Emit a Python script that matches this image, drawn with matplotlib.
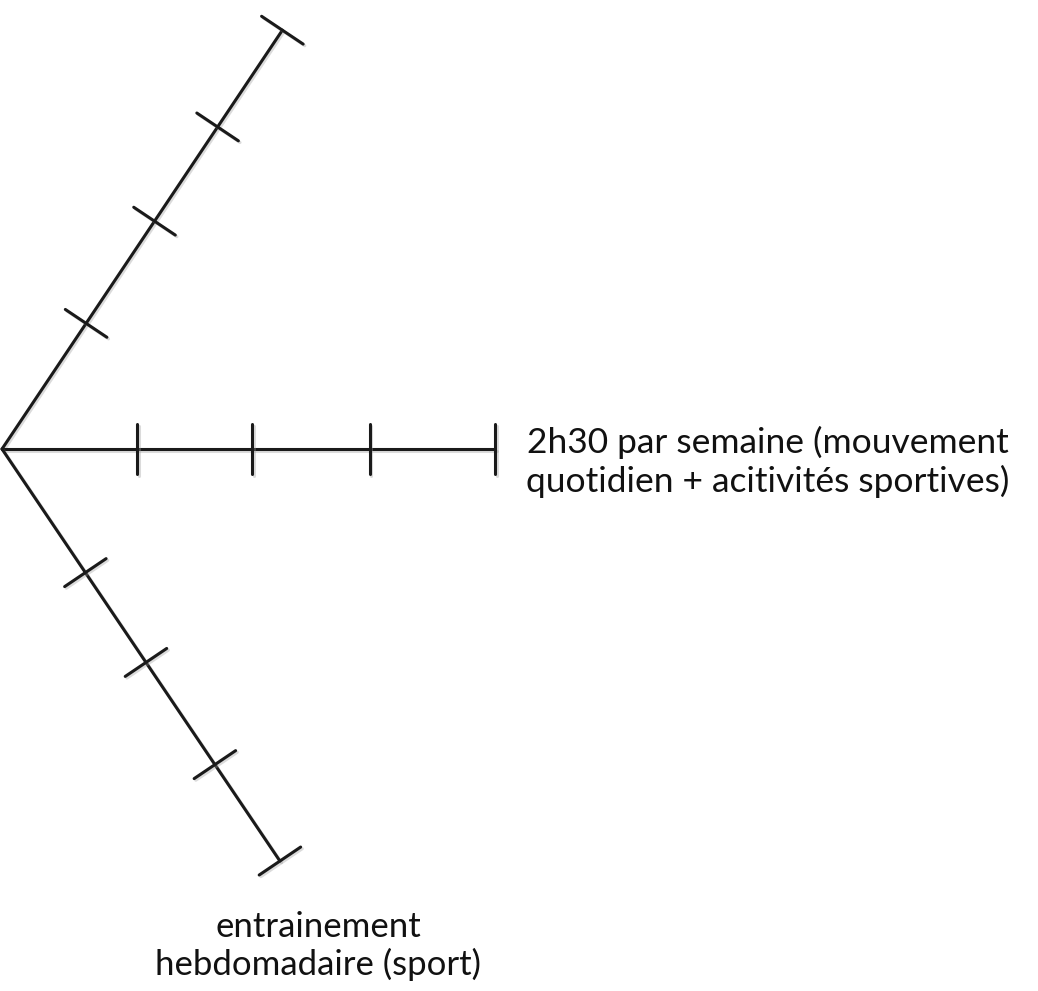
import numpy as np
import matplotlib
matplotlib.use("Agg")
import matplotlib.pyplot as plt
import matplotlib.patheffects as pe

# trois axes du schéma (angle en degrés, longueur en pixels)
axes_noms = ["haut", "2h30 par semaine (mouvement\nquotidien + acitivités sportives)",
             "entrainement\nhebdomadaire (sport)"]
angles = [56.2, 0.0, -56.0]
longueurs = [504, 493, 497]
# position des graduations (fraction de la longueur)
graduations = [[0.30, 0.544, 0.769],
               [0.274, 0.507, 0.746],
               [0.30, 0.518, 0.766]]

centre = (2, 449)

fig = plt.figure(figsize=(10.38, 9.91), dpi=100)
ax = fig.add_axes([0, 0, 1, 1])
ax.set_xlim(0, 1038)
ax.set_ylim(991, 0)
ax.axis("off")

lw = 2.2
demi_trait = 25
ombre = [pe.SimpleLineShadow(offset=(1.2, -1.2), shadow_color="#999999", alpha=0.35),
         pe.Normal()]

for ang, L, grads in zip(angles, longueurs, graduations):
    a = np.radians(ang)
    d = np.array([np.cos(a), -np.sin(a)])   # direction (y vers le bas)
    n = np.array([np.sin(a), np.cos(a)])    # normale
    c = np.array(centre)
    fin = c + d * L
    ax.plot([c[0], fin[0]], [c[1], fin[1]], color="#1a1a1a", lw=lw,
            solid_capstyle="round", path_effects=ombre)
    for f in grads + [1.0]:
        p = c + d * L * f
        q1 = p - n * demi_trait
        q2 = p + n * demi_trait
        ax.plot([q1[0], q2[0]], [q1[1], q2[1]], color="#1a1a1a", lw=lw,
                solid_capstyle="round", path_effects=ombre)

plt.rcParams["font.family"] = ["Lato", "DejaVu Sans"]
ax.text(768, 462, axes_noms[1], ha="center", va="center", fontsize=25.5,
        color="#111111", linespacing=1.2)
ax.text(318, 946, axes_noms[2], ha="center", va="center", fontsize=25,
        color="#111111", linespacing=1.2)

fig.savefig("out.png", dpi=100)
